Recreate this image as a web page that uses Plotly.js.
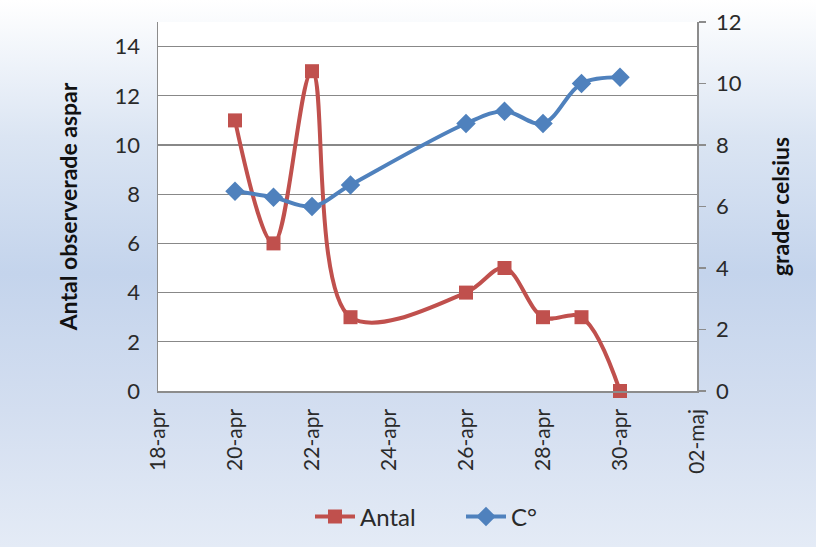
<!DOCTYPE html>
<html>
<head>
<meta charset="utf-8">
<script src="https://cdn.plot.ly/plotly-3.0.1.min.js"></script>
<style>
  html, body { margin: 0; padding: 0; }
  body {
    width: 816px; height: 547px; overflow: hidden;
    background: linear-gradient(to bottom, #ffffff 0%, #dbe5f3 25%, #c4d4ec 50%, #d3def0 75%, #e4ebf6 100%);
  }
  #chart { width: 816px; height: 547px; }
</style>
</head>
<body>
<div id="chart"></div>
<script>
// Observation dates
const dates = ['2010-04-20', '2010-04-21', '2010-04-22', '2010-04-23', '2010-04-26',
               '2010-04-27', '2010-04-28', '2010-04-29', '2010-04-30'];
// Number of observed aspar per day
const antal = [11, 6, 13, 3, 4, 5, 3, 3, 0];
// Temperature, degrees Celsius
const celsius = [6.5, 6.3, 6.0, 6.7, 8.7, 9.1, 8.7, 10.0, 10.2];

// X tick positions and labels
const tickDates = ['2010-04-18', '2010-04-20', '2010-04-22', '2010-04-24', '2010-04-26',
                   '2010-04-28', '2010-04-30', '2010-05-02'];
const tickLabels = ['18-apr', '20-apr', '22-apr', '24-apr', '26-apr', '28-apr', '30-apr', '02-maj'];

const red = '#C0504D';
const blue = '#4F81BD';
const font = 'Lato, "Open Sans", sans-serif';
const textColor = '#2a2a2a';

const traces = [
  {
    x: dates, y: antal, name: 'Antal', type: 'scatter', mode: 'lines+markers',
    line: { color: red, width: 4, shape: 'spline', smoothing: 1 },
    marker: { symbol: 'square', size: 14, color: red },
    cliponaxis: false,
    yaxis: 'y'
  },
  {
    x: dates, y: celsius, name: 'C°', type: 'scatter', mode: 'lines+markers',
    line: { color: blue, width: 4, shape: 'spline', smoothing: 1 },
    marker: { symbol: 'diamond', size: 15, color: blue },
    cliponaxis: false,
    yaxis: 'y2'
  }
];

const layout = {
  width: 816, height: 547,
  margin: { l: 158, r: 119, t: 22, b: 156, autoexpand: false },
  paper_bgcolor: 'rgba(0,0,0,0)',
  plot_bgcolor: '#ffffff',
  font: { family: font, size: 21, color: textColor },
  showlegend: true,
  legend: {
    orientation: 'h', x: 0.282, xanchor: 'left',
    yref: 'container', y: 0.055, yanchor: 'middle',
    font: { family: font, size: 24, color: textColor },
    bgcolor: 'rgba(0,0,0,0)', itemwidth: 40, traceorder: 'normal',
    entrywidth: 96, entrywidthmode: 'pixels'
  },
  xaxis: {
    type: 'date', automargin: false,
    range: ['2010-04-18', '2010-05-02'],
    tickmode: 'array', tickvals: tickDates, ticktext: tickLabels,
    tickangle: -90,
    tickfont: { family: font, size: 21, color: textColor },
    showgrid: false, zeroline: false,
    showline: true, linecolor: '#8c8c8c', linewidth: 1.5,
    ticks: '', ticklabelstandoff: 8
  },
  yaxis: {
    automargin: false,
    range: [0, 15], tickmode: 'array', tickvals: [0, 2, 4, 6, 8, 10, 12, 14],
    showgrid: true, gridcolor: '#888888', gridwidth: 1.3,
    zeroline: false, showline: true, linecolor: '#8c8c8c', linewidth: 1.5,
    ticks: '', ticklabelstandoff: 12,
    tickfont: { family: font, size: 22, color: textColor },
    title: { text: 'Antal observerade aspar', font: { family: font, size: 23, color: '#111111', weight: 'bold' }, standoff: 30 }
  },
  yaxis2: {
    automargin: false,
    overlaying: 'y', side: 'right',
    range: [0, 12], tickmode: 'array', tickvals: [0, 2, 4, 6, 8, 10, 12],
    showgrid: false, zeroline: false,
    showline: true, linecolor: '#8c8c8c', linewidth: 1.5,
    ticks: 'outside', ticklen: 7, tickcolor: '#8c8c8c', tickwidth: 1.5,
    ticklabelstandoff: 6,
    tickfont: { family: font, size: 22, color: textColor },
    title: { text: 'grader celsius', font: { family: font, size: 23, color: '#111111', weight: 'bold' }, standoff: 32 }
  }
};

Plotly.newPlot('chart', traces, layout, { displayModeBar: false, staticPlot: true });
</script>
</body>
</html>
